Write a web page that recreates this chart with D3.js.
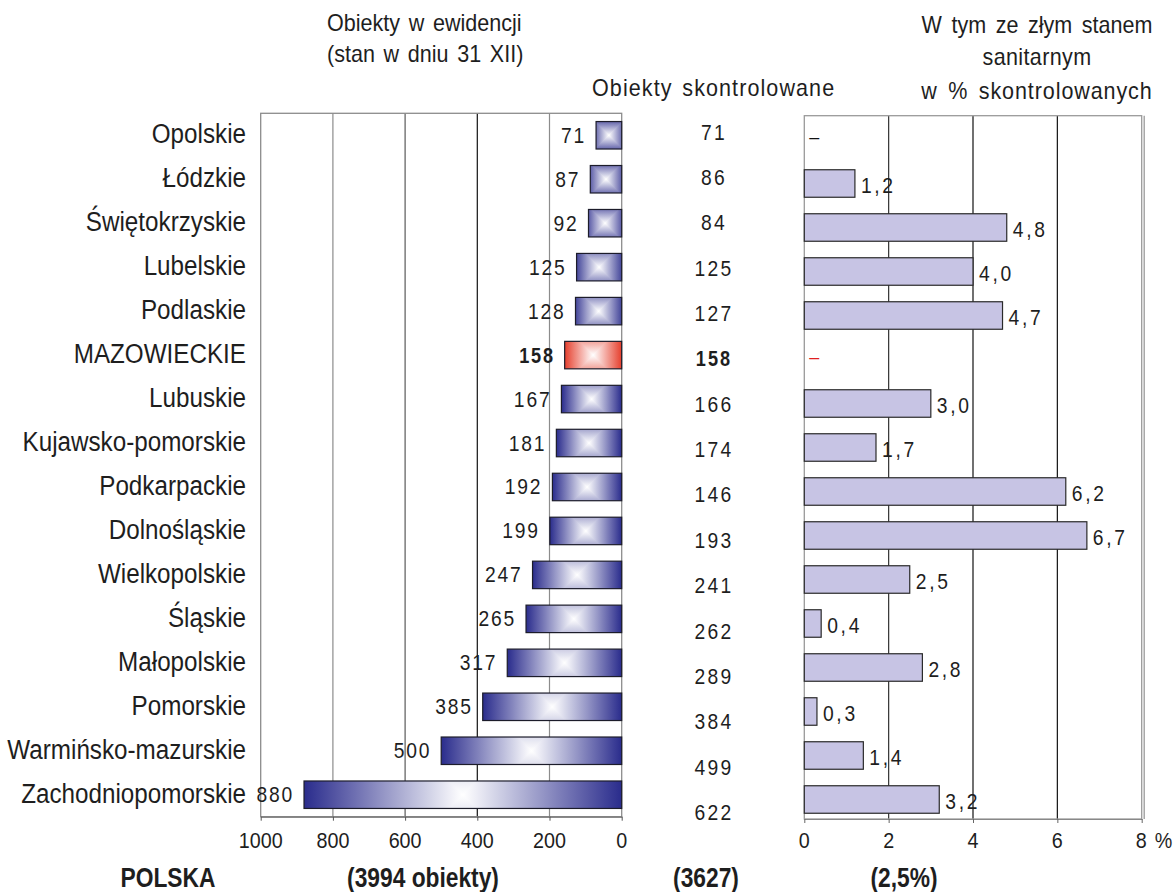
<!DOCTYPE html>
<html><head><meta charset="utf-8">
<script src="https://cdn.jsdelivr.net/npm/d3@7"></script>
<style>html,body{margin:0;padding:0;background:#fff;}</style>
</head><body>
<svg id="chart" width="1173" height="892"></svg>
<script>
// ---------- data ----------
const categories = ["Opolskie","Łódzkie","Świętokrzyskie","Lubelskie","Podlaskie","MAZOWIECKIE","Lubuskie","Kujawsko-pomorskie","Podkarpackie","Dolnośląskie","Wielkopolskie","Śląskie","Małopolskie","Pomorskie","Warmińsko-mazurskie","Zachodniopomorskie"];
const registered = [71,87,92,125,128,158,167,181,192,199,247,265,317,385,500,880];
const inspected  = [71,86,84,125,127,158,166,174,146,193,241,262,289,384,499,622];
const badPct     = [null,1.2,4.8,4.0,4.7,null,3.0,1.7,6.2,6.7,2.5,0.4,2.8,0.3,1.4,3.2];
const highlight = "MAZOWIECKIE";
const leftTicks = [1000,800,600,400,200,0];
const rightTicks = [0,2,4,6,8];
const titleLeft = ["Obiekty w ewidencji","(stan w dniu 31 XII)"];
const titleMid = ["Obiekty  skontrolowane"];
const titleRight = ["W tym ze złym stanem","sanitarnym","w % skontrolowanych"];
const totalsLabels = ["POLSKA","(3994 obiekty)","(3627)","(2,5%)"];

// ---------- setup ----------
const svg = d3.select("#chart");
svg.append("rect").attr("width",1173).attr("height",892).attr("fill","#fff");
const FONT = "'Liberation Sans','Arial','Helvetica',sans-serif";
const defs = svg.append("defs");

function measure(str, size, weight){
  const t = svg.append("text").style("font-family",FONT).style("font-size",size+"px")
    .style("font-weight",weight).text(str);
  const w = t.node().getComputedTextLength(); t.remove(); return w;
}
const SX = 225 / measure("Zachodniopomorskie", 27, "normal");
const SXB = 152 / measure("(3994 obiekty)", 27, "bold");

function label(g, x, y, str, o={}){
  const sx = o.weight==="bold" ? SXB : SX;
  return g.append("text")
    .attr("transform",`translate(${x},${y}) scale(${sx},1)`)
    .attr("text-anchor", o.anchor||"start")
    .style("font-family",FONT).style("font-size",(o.size||21)+"px")
    .style("font-weight",o.weight||"normal")
    .style("letter-spacing",(o.ls||0)+"px")
    .style("word-spacing",(o.ws||0)+"px")
    .attr("fill",o.fill||"#1e1e1e").text(str);
}

// ---------- scales ----------
const xL = d3.scaleLinear().domain([0,1000]).range([621.7,260.7]);
const yL = d3.scaleBand().domain(categories).range([113.3,816.7]).paddingInner(0.375).paddingOuter(0.1875);
const xR = d3.scaleLinear().domain([0,8]).range([804.3,1141.7]);
const yR = d3.scaleBand().domain(categories).range([117.5,821.5]).paddingInner(0.375).paddingOuter(0.1875);
const yM = d3.scalePoint().domain(categories).range([131.5,812]);
const frameL = {top:113.3,bottom:816.7};
const frameR = {top:115.7,bottom:819};

// ---------- left panel ----------
const gL = svg.append("g");
const gridColL = {800:"#8c8c8c",600:"#5a5a5a",400:"#111",200:"#8c8c8c"};
gL.selectAll("line.grid").data(leftTicks.filter(d=>d>0&&d<1000)).join("line")
  .attr("x1",d=>xL(d)).attr("x2",d=>xL(d)).attr("y1",frameL.top).attr("y2",frameL.bottom)
  .attr("stroke",d=>gridColL[d]).attr("stroke-width",1.2);
gL.append("rect").attr("x",xL(1000)).attr("y",frameL.top).attr("width",xL(0)-xL(1000)).attr("height",frameL.bottom-frameL.top)
  .attr("fill","none").attr("stroke","#8c8c8c").attr("stroke-width",1.3);

const axL = d3.axisBottom(xL).tickValues(leftTicks).tickSize(4).tickSizeOuter(0);
const gAxL = gL.append("g").attr("transform",`translate(0,${frameL.bottom})`).call(axL);
gAxL.select(".domain").attr("stroke","#666");
gAxL.selectAll(".tick line").attr("stroke","#555");
gAxL.selectAll(".tick text").remove();
leftTicks.forEach(d=>label(gL, xL(d), 848, String(d), {size:22, anchor:"middle"}));

// bars with rectangular (box) gradient
function boxColor(base, R){
  const k = Math.min(1, 0.5 + R/60);
  const edge = d3.interpolateRgb("#ffffff", base)(k);
  return t => d3.interpolateRgb("#ffffff", edge)(Math.max(0,Math.min(1,t)));
}
const gBars = gL.append("g");
categories.forEach((c,i)=>{
  const v = registered[i];
  const x0 = xL(v), x1 = xL(0), y0 = yL(c), h = yL.bandwidth();
  const hw = (x1-x0)/2, hh = h/2, cx = x0+hw, cy = y0+hh, R = Math.max(hw,hh);
  const col = boxColor(c===highlight ? "#e43a28" : "#2a2c8c", R);
  const N = 20;
  const gh = defs.append("linearGradient").attr("id","gh"+i).attr("gradientUnits","userSpaceOnUse")
    .attr("x1",x0).attr("x2",x1).attr("y1",0).attr("y2",0);
  const gv = defs.append("linearGradient").attr("id","gv"+i).attr("gradientUnits","userSpaceOnUse")
    .attr("x1",0).attr("x2",0).attr("y1",y0).attr("y2",y0+h);
  for(let k=0;k<=N;k++){
    const o = k/N, d = Math.abs(o-0.5)*2;
    gh.append("stop").attr("offset",o).attr("stop-color",col(d*hw/R));
    gv.append("stop").attr("offset",o).attr("stop-color",col(d*hh/R));
  }
  gBars.append("rect").attr("x",x0).attr("y",y0).attr("width",x1-x0).attr("height",h).attr("fill",`url(#gh${i})`);
  const a = Math.min(hw,hh);
  const top = [[cx-a,y0],[cx+a,y0],[cx+a,cy-a],[cx,cy],[cx-a,cy-a]];
  const bot = [[cx-a,y0+h],[cx+a,y0+h],[cx+a,cy+a],[cx,cy],[cx-a,cy+a]];
  [top,bot].forEach(p=>gBars.append("polygon").attr("points",p.map(q=>q.join(",")).join(" ")).attr("fill",`url(#gv${i})`));
  gBars.append("rect").attr("x",x0).attr("y",y0).attr("width",x1-x0).attr("height",h)
    .attr("fill","none").attr("stroke","#1c1c2a").attr("stroke-width",1.2);
  label(gL, x0-10, cy+7.5, String(v), {size:21.5, anchor:"end", ls:2, weight: c===highlight?"bold":"normal"});
});

// category labels
categories.forEach(c=>{
  label(svg, 246, yL(c)+yL.bandwidth()/2+8, c, {size:27, anchor:"end"});
});

// ---------- middle column ----------
categories.forEach((c,i)=>{
  label(svg, 714, yM(c)+8, String(inspected[i]), {size:21.5, anchor:"middle", ls:2.5, weight: c===highlight?"bold":"normal"});
});

// ---------- right panel ----------
const gR = svg.append("g");
gR.selectAll("line.grid").data(rightTicks.filter(d=>d>0&&d<8)).join("line")
  .attr("x1",d=>xR(d)).attr("x2",d=>xR(d)).attr("y1",frameR.top).attr("y2",frameR.bottom)
  .attr("stroke",d=>d===2?"#333":"#111").attr("stroke-width",1.2);
gR.append("rect").attr("x",xR(0)).attr("y",frameR.top).attr("width",xR(8)-xR(0)).attr("height",frameR.bottom-frameR.top)
  .attr("fill","none").attr("stroke","#9a9a9a").attr("stroke-width",1.3);
gR.append("line").attr("x1",xR(8)+2.5).attr("x2",xR(8)+2.5).attr("y1",frameR.top).attr("y2",frameR.bottom)
  .attr("stroke","#9a9a9a").attr("stroke-width",1.3);
const axR = d3.axisBottom(xR).tickValues(rightTicks).tickSize(4).tickSizeOuter(0);
const gAxR = gR.append("g").attr("transform",`translate(0,${frameR.bottom})`).call(axR);
gAxR.select(".domain").attr("stroke","#888");
gAxR.selectAll(".tick line").attr("stroke","#666");
gAxR.selectAll(".tick text").remove();
rightTicks.forEach(d=>{
  if(d===8) label(gR, xR(d)-6, 848, "8 %", {size:22, anchor:"start", ws:3});
  else label(gR, xR(d), 848, String(d), {size:22, anchor:"middle"});
});
const fmt = v => d3.format(".1f")(v).replace(".",",");
categories.forEach((c,i)=>{
  const v = badPct[i];
  const y0 = yR(c), h = yR.bandwidth(), cy = y0+h/2;
  if(v===null){
    label(gR, xR(0)+5, cy+4, "–", {size:20, fill: c===highlight?"#e02020":"#111"});
    return;
  }
  gR.append("rect").attr("x",xR(0)).attr("y",y0).attr("width",xR(v)-xR(0)).attr("height",h)
    .attr("fill","#c7c4e4").attr("stroke","#2a2a2a").attr("stroke-width",1.2);
  label(gR, xR(v)+6, cy+9.5, fmt(v), {size:21.5, anchor:"start", ls:3});
});

// ---------- titles ----------
titleLeft.forEach((t,i)=>label(svg, 327, 31+i*31, t, {size:24, anchor:"start", ws:3}));
titleMid.forEach(t=>label(svg, 592, 96, t, {size:24, anchor:"start", ws:3, ls:1.2}));
const rightY = [33, 65, 99];
const rightLs = [0, 0.4, 1];
titleRight.forEach((t,i)=>label(svg, 1037, rightY[i], t, {size:24, anchor:"middle", ws:4, ls:rightLs[i]}));

// ---------- totals ----------
const totX = [168, 423, 706, 904];
totalsLabels.forEach((t,i)=>label(svg, totX[i], 887, t, {size:27, anchor:"middle", weight:"bold"}));
</script>
</body></html>
